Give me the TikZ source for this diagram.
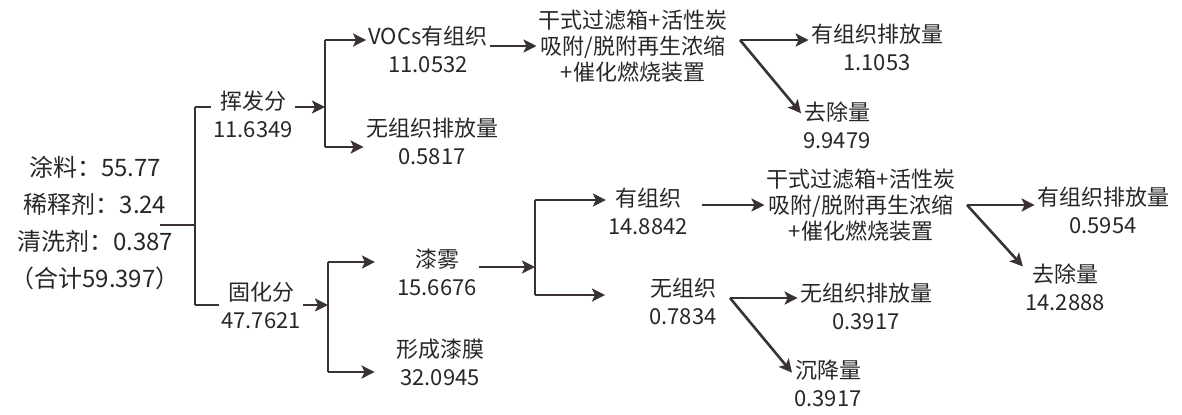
\documentclass[tikz,border=0pt]{standalone}
\usepackage{fontspec}
\setmainfont{Noto Sans CJK SC}
\usetikzlibrary{arrows.meta}
\definecolor{linie}{RGB}{58,50,50}
\definecolor{schrift}{RGB}{42,38,38}
\tikzset{
	ast/.style={line width=1.3pt,draw=linie},
	pfeil/.style={ast,-{Stealth[length=6.5pt,width=6.5pt,inset=1.5pt]}},
	wert/.style={align=center,text=schrift,inner sep=1pt,font=\fontsize{11}{14}\selectfont},
	anlage/.style={wert,font=\fontsize{11}{13}\selectfont}
}
\begin{document}
\begin{tikzpicture}[x=0.5pt,y=-0.5pt]
		\useasboundingbox (0,0) rectangle (1182,414);
		% Verzweigungen
		\coordinate (s0) at (160,225);
		\coordinate (s1) at (195,225);
		\coordinate (s1o) at (195,107);
		\coordinate (s1u) at (195,305);
		\coordinate (g1o) at (325,40);
		\coordinate (g1) at (325,107);
		\coordinate (g1u) at (325,147);
		\coordinate (g2o) at (328,262);
		\coordinate (g2) at (328,305);
		\coordinate (g2u) at (328,372);
		\coordinate (g3o) at (535,200);
		\coordinate (g3) at (535,267);
		\coordinate (g3u) at (535,295);
		\coordinate (v1) at (740,40);
		\coordinate (v2) at (967,205);
		\coordinate (v3) at (730,298);
		% Stamm
		\draw[ast] (s0) -- (s1);
		\draw[ast] (s1o) -- (s1u);
		\draw[pfeil] (s1o) -- (g1);
		\draw[pfeil] (s1u) -- (g2);
		\draw[ast] (g1o) -- (g1u);
		\draw[ast] (g2o) -- (g2u);
		\draw[ast] (g3o) -- (g3u);
		% Mengen
		\node[wert,font=\fontsize{12}{18.5}\selectfont] (quelle) at (95,223)
			{涂料：55.77\\稀释剂：3.24\\清洗剂：0.387\\（合计59.397）};
		\node[wert,fill=white] (hf) at (253,114) {挥发分\\11.6349};
		\node[wert,fill=white] (gf) at (261,305) {固化分\\47.7621};
		\node[wert] (voc) at (428,49) {VOCs有组织\\11.0532};
		\node[wert] (wu1) at (432,141) {无组织排放量\\0.5817};
		\node[anlage] (box1) at (633,46) {干式过滤箱+活性炭\\吸附/脱附再生浓缩\\+催化燃烧装置};
		\node[wert] (out1) at (877,47) {有组织排放量\\1.1053};
		\node[wert] (rem1) at (837,125) {去除量\\9.9479};
		\node[wert] (lw) at (437,272) {漆雾\\15.6676};
		\node[wert] (lm) at (440,362) {形成漆膜\\32.0945};
		\node[wert] (yz) at (648,211) {有组织\\14.8842};
		\node[wert] (wz) at (683,301) {无组织\\0.7834};
		\node[anlage] (box2) at (861,205) {干式过滤箱+活性炭\\吸附/脱附再生浓缩\\+催化燃烧装置};
		\node[wert] (out2) at (1103,210) {有组织排放量\\0.5954};
		\node[wert] (rem2) at (1065,287) {去除量\\14.2888};
		\node[wert] (wu2) at (866,306) {无组织排放量\\0.3917};
		\node[wert] (cj) at (828,383) {沉降量\\0.3917};
		% Pfeile
		\draw[pfeil] (g1o) -- (voc.west |- g1o);
		\draw[pfeil] (g1u) -- (wu1.west |- g1u);
		\draw[pfeil] (voc.east |- box1) -- (box1.west);
		\draw[pfeil] (v1) -- (out1.west |- v1);
		\draw[pfeil] (v1) -- (rem1.162);
		\draw[pfeil,shorten >=10pt] (g2o) -- (lw.west |- g2o);
		\draw[pfeil,shorten >=9.5pt] (g2u) -- (lm.west |- g2u);
		\draw[pfeil] (lw.east |- g3) -- (g3);
		\draw[pfeil] (g3o) -- (yz.west |- g3o);
		\draw[pfeil,shorten >=21pt] (g3u) -- (wz.west |- g3u);
		\draw[pfeil,shorten <=6pt] (yz.east |- box2) -- (box2.west);
		\draw[pfeil] (v2) -- (out2.west |- v2);
		\draw[pfeil] (v2) -- (rem2.154);
		\draw[pfeil] (v3) -- (wu2.west |- v3);
		\draw[pfeil] (v3) -- (cj.164);
	\end{tikzpicture}
\end{document}
